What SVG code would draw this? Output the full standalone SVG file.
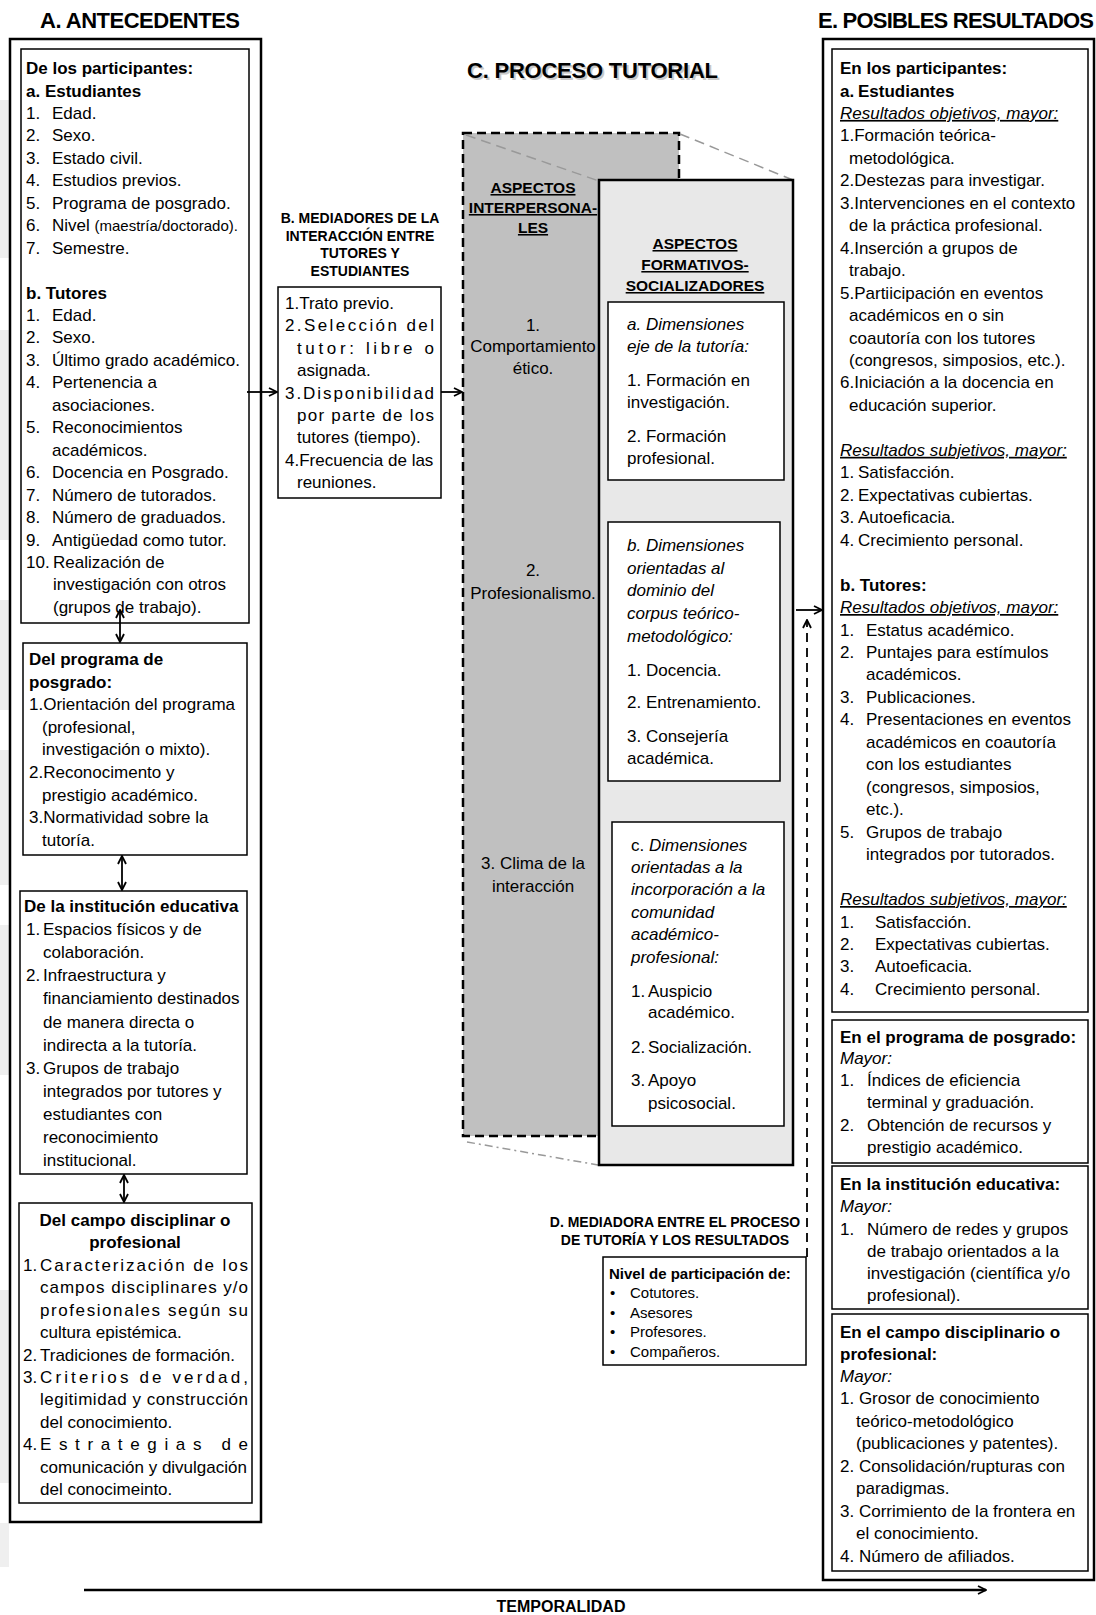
<svg xmlns="http://www.w3.org/2000/svg" width="1096" height="1615" viewBox="0 0 1096 1615">
<defs>
<style>
text{font-family:"Liberation Sans",Arial,Helvetica,sans-serif;font-size:17px;fill:#000}
.b{font-weight:bold}
.i{font-style:italic}
.u{text-decoration:underline}
.h{font-weight:bold;font-size:22px}
.m{font-weight:bold;font-size:14px}
.hd{font-weight:bold;font-size:15.5px;text-decoration:underline}
.sm{font-size:15px}
.c{text-anchor:middle}
.outer{fill:#fff;stroke:#000;stroke-width:2.5}
.box{fill:#fff;stroke:#000;stroke-width:1.5}
.conn{fill:none;stroke:#000;stroke-width:1.8}
.persp{fill:none;stroke:#999;stroke-width:1.5}
.faint{fill:#efefef}
</style>
<marker id="ah" viewBox="0 0 10 10" refX="9" refY="5" markerWidth="10" markerHeight="10" markerUnits="userSpaceOnUse" orient="auto-start-reverse">
<path d="M1,1 L9,5 L1,9" fill="none" stroke="#000" stroke-width="1.8"/>
</marker>
</defs>
<rect width="1096" height="1615" fill="#fff"/>
<g id="margin-marks">
<rect class="faint" x="0" y="100" width="9" height="158"/>
<rect class="faint" x="0" y="330" width="9" height="210"/>
<rect class="faint" x="0" y="600" width="9" height="110"/>
<rect class="faint" x="0" y="750" width="9" height="135"/>
<rect class="faint" x="0" y="925" width="9" height="150"/>
<rect class="faint" x="0" y="1290" width="9" height="193"/>
<rect class="faint" x="0" y="1523" width="9" height="44"/>
</g>

<g id="A">
<text class="h" x="40" y="28" textLength="200" lengthAdjust="spacing">A. ANTECEDENTES</text>
<rect class="outer" x="10" y="39" width="251" height="1483"/>
<g id="A1">
<rect class="box" x="21" y="49" width="228" height="574"/>
<text class="b" x="26" y="74">De los participantes:</text>
<text class="b" x="26" y="96.5">a. Estudiantes</text>
<text y="118.9"><tspan x="26">1.</tspan><tspan x="52">Edad.</tspan></text>
<text y="141.4"><tspan x="26">2.</tspan><tspan x="52">Sexo.</tspan></text>
<text y="163.8"><tspan x="26">3.</tspan><tspan x="52">Estado civil.</tspan></text>
<text y="186.3"><tspan x="26">4.</tspan><tspan x="52">Estudios previos.</tspan></text>
<text y="208.7"><tspan x="26">5.</tspan><tspan x="52">Programa de posgrado.</tspan></text>
<text y="231.2"><tspan x="26">6.</tspan><tspan x="52">Nivel </tspan><tspan class="sm">(maestría/doctorado).</tspan></text>
<text y="253.6"><tspan x="26">7.</tspan><tspan x="52">Semestre.</tspan></text>
<text class="b" x="26" y="298.5">b. Tutores</text>
<text y="321"><tspan x="26">1.</tspan><tspan x="52">Edad.</tspan></text>
<text y="343.4"><tspan x="26">2.</tspan><tspan x="52">Sexo.</tspan></text>
<text y="365.9"><tspan x="26">3.</tspan><tspan x="52">Último grado académico.</tspan></text>
<text y="388.3"><tspan x="26">4.</tspan><tspan x="52">Pertenencia a</tspan></text>
<text x="52" y="410.8">asociaciones.</text>
<text y="433.2"><tspan x="26">5.</tspan><tspan x="52">Reconocimientos</tspan></text>
<text x="52" y="455.7">académicos.</text>
<text y="478.1"><tspan x="26">6.</tspan><tspan x="52">Docencia en Posgrado.</tspan></text>
<text y="500.6"><tspan x="26">7.</tspan><tspan x="52">Número de tutorados.</tspan></text>
<text y="523"><tspan x="26">8.</tspan><tspan x="52">Número de graduados.</tspan></text>
<text y="545.5"><tspan x="26">9.</tspan><tspan x="52">Antigüedad como tutor.</tspan></text>
<text y="567.9"><tspan x="26">10.</tspan><tspan x="53">Realización de</tspan></text>
<text x="53" y="590.4">investigación con otros</text>
<text x="53" y="612.8">(grupos de trabajo).</text>
</g>
<g id="A2">
<rect class="box" x="23" y="643" width="224" height="212" stroke-width="2"/>
<text class="b" x="29" y="665">Del programa de</text>
<text class="b" x="29" y="687.6">posgrado:</text>
<text x="29" y="710.2">1.Orientación del programa</text>
<text x="42" y="732.8">(profesional,</text>
<text x="42" y="755.4">investigación o mixto).</text>
<text x="29" y="778">2.Reconocimento y</text>
<text x="42" y="800.6">prestigio académico.</text>
<text x="29" y="823.2">3.Normatividad sobre la</text>
<text x="42" y="845.8">tutoría.</text>
</g>
<g id="A3">
<rect class="box" x="20" y="891" width="227" height="283" stroke-width="2"/>
<text class="b" x="24" y="912">De la institución educativa</text>
<text y="935.1"><tspan x="26">1.</tspan><tspan x="43">Espacios físicos y de</tspan></text>
<text x="43" y="958.2">colaboración.</text>
<text y="981.3"><tspan x="26">2.</tspan><tspan x="43">Infraestructura y</tspan></text>
<text x="43" y="1004.4">financiamiento destinados</text>
<text x="43" y="1027.5">de manera directa o</text>
<text x="43" y="1050.6">indirecta a la tutoría.</text>
<text y="1073.7"><tspan x="26">3.</tspan><tspan x="43">Grupos de trabajo</tspan></text>
<text x="43" y="1096.8">integrados por tutores y</text>
<text x="43" y="1119.9">estudiantes con</text>
<text x="43" y="1143">reconocimiento</text>
<text x="43" y="1166.1">institucional.</text>
</g>
<g id="A4">
<rect class="box" x="19" y="1203" width="233" height="300"/>
<text class="b c" x="135" y="1226">Del campo disciplinar o</text>
<text class="b c" x="135" y="1248.4">profesional</text>
<text y="1270.8"><tspan x="23">1.</tspan><tspan x="40" textLength="208" lengthAdjust="spacing">Caracterización de los</tspan></text>
<text x="40" y="1293.3" textLength="208" lengthAdjust="spacing">campos disciplinares y/o</text>
<text x="40" y="1315.7" textLength="208" lengthAdjust="spacing">profesionales según su</text>
<text x="40" y="1338.1">cultura epistémica.</text>
<text y="1360.5"><tspan x="23">2.</tspan><tspan x="40">Tradiciones de formación.</tspan></text>
<text y="1382.9"><tspan x="23">3.</tspan><tspan x="40" textLength="208" lengthAdjust="spacing">Criterios de verdad,</tspan></text>
<text x="40" y="1405.4" textLength="208" lengthAdjust="spacing">legitimidad y construcción</text>
<text x="40" y="1427.8">del conocimiento.</text>
<text y="1450.2"><tspan x="23">4.</tspan><tspan x="40" textLength="208" lengthAdjust="spacing">Estrategias de</tspan></text>
<text x="40" y="1472.6">comunicación y divulgación</text>
<text x="40" y="1495">del conocimeinto.</text>
</g>
</g>

<g id="B">
<text class="m c" x="360" y="223">B. MEDIADORES DE LA</text>
<text class="m c" x="360" y="240.5">INTERACCIÓN ENTRE</text>
<text class="m c" x="360" y="258">TUTORES Y</text>
<text class="m c" x="360" y="276">ESTUDIANTES</text>
<rect class="box" x="278" y="287" width="163" height="211" stroke-width="2.2"/>
<text x="285" y="309">1.Trato previo.</text>
<text x="285" y="331.4" textLength="149" lengthAdjust="spacing">2.Selección del</text>
<text x="297" y="353.8" textLength="137" lengthAdjust="spacing">tutor: libre o</text>
<text x="297" y="376.2">asignada.</text>
<text x="285" y="398.6" textLength="149" lengthAdjust="spacing">3.Disponibilidad</text>
<text x="297" y="421" textLength="137" lengthAdjust="spacing">por parte de los</text>
<text x="297" y="443.4">tutores (tiempo).</text>
<text x="285" y="465.8">4.Frecuencia de las</text>
<text x="297" y="488.2">reuniones.</text>
</g>

<g id="C">
<text class="h" x="469" y="80" textLength="251" lengthAdjust="spacing" style="fill:#c8c8c8">C. PROCESO TUTORIAL</text>
<text class="h" x="467" y="78" textLength="251" lengthAdjust="spacing">C. PROCESO TUTORIAL</text>
<g id="C-interpersonales">
<rect x="463" y="133" width="216" height="1003" fill="#c0c0c0" stroke="#000" stroke-width="2.5" stroke-dasharray="9 5"/>
<line class="persp" x1="466" y1="135" x2="599" y2="181" stroke-dasharray="10 6"/>
<line class="persp" x1="680" y1="134" x2="793" y2="180" stroke-dasharray="10 6"/>
<line class="persp" x1="467" y1="1142" x2="598" y2="1165" stroke-dasharray="8 4 2 4"/>
<text class="hd c" x="533" y="193">ASPECTOS</text>
<text class="hd c" x="533" y="213">INTERPERSONA-</text>
<text class="hd c" x="533" y="233">LES</text>
<text class="c" x="533" y="331">1.</text>
<text class="c" x="533" y="352">Comportamiento</text>
<text class="c" x="533" y="374">ético.</text>
<text class="c" x="533" y="576">2.</text>
<text class="c" x="533" y="599">Profesionalismo.</text>
<text class="c" x="533" y="869">3. Clima de la</text>
<text class="c" x="533" y="892">interacción</text>
</g>
<g id="C-formativos">
<rect x="599" y="180" width="194" height="985" fill="#e8e8e8" stroke="#000" stroke-width="2.5"/>
<text class="hd c" x="695" y="249">ASPECTOS</text>
<text class="hd c" x="695" y="270">FORMATIVOS-</text>
<text class="hd c" x="695" y="291">SOCIALIZADORES</text>
<g id="C-a">
<rect class="box" x="608" y="302" width="176" height="178"/>
<text class="i" x="627" y="330">a. Dimensiones</text>
<text class="i" x="627" y="352">eje de la tutoría:</text>
<text x="627" y="386">1. Formación en</text>
<text x="627" y="408">investigación.</text>
<text x="627" y="442">2. Formación</text>
<text x="627" y="464">profesional.</text>
</g>
<g id="C-b">
<rect class="box" x="608" y="522" width="172" height="259"/>
<text class="i" x="627" y="551">b. Dimensiones</text>
<text class="i" x="627" y="574">orientadas al</text>
<text class="i" x="627" y="596">dominio del</text>
<text class="i" x="627" y="619">corpus teórico-</text>
<text class="i" x="627" y="642">metodológico:</text>
<text x="627" y="676">1. Docencia.</text>
<text x="627" y="708">2. Entrenamiento.</text>
<text x="627" y="742">3. Consejería</text>
<text x="627" y="764">académica.</text>
</g>
<g id="C-c">
<rect class="box" x="612" y="822" width="172" height="304"/>
<text x="631" y="851">c. <tspan class="i">Dimensiones</tspan></text>
<text class="i" x="631" y="873">orientadas a la</text>
<text class="i" x="631" y="895">incorporación a la</text>
<text class="i" x="631" y="918">comunidad</text>
<text class="i" x="631" y="940">académico-</text>
<text class="i" x="631" y="963">profesional:</text>
<text y="997"><tspan x="631">1.</tspan><tspan x="648">Auspicio</tspan></text>
<text x="648" y="1018">académico.</text>
<text y="1053"><tspan x="631">2.</tspan><tspan x="648">Socialización.</tspan></text>
<text y="1086"><tspan x="631">3.</tspan><tspan x="648">Apoyo</tspan></text>
<text x="648" y="1109">psicosocial.</text>
</g>
</g>
</g>

<g id="D">
<text class="m c" x="675" y="1227">D. MEDIADORA ENTRE EL PROCESO</text>
<text class="m c" x="675" y="1245">DE TUTORÍA Y LOS RESULTADOS</text>
<rect class="box" x="603" y="1257" width="203" height="108"/>
<text class="b" x="609" y="1279" style="font-size:15px">Nivel de participación de:</text>
<text class="sm" y="1298"><tspan x="610">•</tspan><tspan x="630">Cotutores.</tspan></text>
<text class="sm" y="1318"><tspan x="610">•</tspan><tspan x="630">Asesores</tspan></text>
<text class="sm" y="1337"><tspan x="610">•</tspan><tspan x="630">Profesores.</tspan></text>
<text class="sm" y="1357"><tspan x="610">•</tspan><tspan x="630">Compañeros.</tspan></text>
</g>

<g id="E">
<text class="h" x="818" y="28" textLength="276" lengthAdjust="spacing">E. POSIBLES RESULTADOS</text>
<rect class="outer" x="823" y="39" width="271" height="1541"/>
<g id="E1">
<rect class="box" x="832" y="49" width="256" height="963"/>
<text class="b" x="840" y="74">En los participantes:</text>
<text class="b" y="96.5"><tspan x="840">a.</tspan><tspan x="858">Estudiantes</tspan></text>
<text class="i u" x="840" y="118.9">Resultados objetivos, mayor:</text>
<text x="840" y="141.4">1.Formación teórica-</text>
<text x="849" y="163.8">metodológica.</text>
<text x="840" y="186.3">2.Destezas para investigar.</text>
<text x="840" y="208.8">3.Intervenciones en el contexto</text>
<text x="849" y="231.2">de la práctica profesional.</text>
<text x="840" y="253.7">4.Inserción a grupos de</text>
<text x="849" y="276.1">trabajo.</text>
<text x="840" y="298.6">5.Partiicipación en eventos</text>
<text x="849" y="321.1">académicos en o sin</text>
<text x="849" y="343.5">coautoría con los tutores</text>
<text x="849" y="366">(congresos, simposios, etc.).</text>
<text x="840" y="388.4">6.Iniciación a la docencia en</text>
<text x="849" y="410.9">educación superior.</text>
<text class="i u" x="840" y="455.8">Resultados subjetivos, mayor:</text>
<text y="478.3"><tspan x="840">1.</tspan><tspan x="858">Satisfacción.</tspan></text>
<text y="500.7"><tspan x="840">2.</tspan><tspan x="858">Expectativas cubiertas.</tspan></text>
<text y="523.2"><tspan x="840">3.</tspan><tspan x="858">Autoeficacia.</tspan></text>
<text y="545.7"><tspan x="840">4.</tspan><tspan x="858">Crecimiento personal.</tspan></text>
<text class="b" x="840" y="590.6">b. Tutores:</text>
<text class="i u" x="840" y="613">Resultados objetivos, mayor:</text>
<text y="635.5"><tspan x="840">1.</tspan><tspan x="866">Estatus académico.</tspan></text>
<text y="658"><tspan x="840">2.</tspan><tspan x="866">Puntajes para estímulos</tspan></text>
<text x="866" y="680.4">académicos.</text>
<text y="702.9"><tspan x="840">3.</tspan><tspan x="866">Publicaciones.</tspan></text>
<text y="725.3"><tspan x="840">4.</tspan><tspan x="866">Presentaciones en eventos</tspan></text>
<text x="866" y="747.8">académicos en coautoría</text>
<text x="866" y="770.3">con los estudiantes</text>
<text x="866" y="792.7">(congresos, simposios,</text>
<text x="866" y="815.2">etc.).</text>
<text y="837.6"><tspan x="840">5.</tspan><tspan x="866">Grupos de trabajo</tspan></text>
<text x="866" y="860.1">integrados por tutorados.</text>
<text class="i u" x="840" y="905">Resultados subjetivos, mayor:</text>
<text y="927.5"><tspan x="840">1.</tspan><tspan x="875">Satisfacción.</tspan></text>
<text y="950"><tspan x="840">2.</tspan><tspan x="875">Expectativas cubiertas.</tspan></text>
<text y="972.4"><tspan x="840">3.</tspan><tspan x="875">Autoeficacia.</tspan></text>
<text y="994.9"><tspan x="840">4.</tspan><tspan x="875">Crecimiento personal.</tspan></text>
</g>
<g id="E2">
<rect class="box" x="832" y="1020" width="256" height="143"/>
<text class="b" x="840" y="1043">En el programa de posgrado:</text>
<text class="i" x="840" y="1064">Mayor:</text>
<text y="1086"><tspan x="840">1.</tspan><tspan x="867">Índices de eficiencia</tspan></text>
<text x="867" y="1108">terminal y graduación.</text>
<text y="1131"><tspan x="840">2.</tspan><tspan x="867">Obtención de recursos y</tspan></text>
<text x="867" y="1153">prestigio académico.</text>
</g>
<g id="E3">
<rect class="box" x="832" y="1166" width="256" height="143"/>
<text class="b" x="840" y="1190">En la institución educativa:</text>
<text class="i" x="840" y="1212">Mayor:</text>
<text y="1235"><tspan x="840">1.</tspan><tspan x="867">Número de redes y grupos</tspan></text>
<text x="867" y="1257">de trabajo orientados a la</text>
<text x="867" y="1279">investigación (científica y/o</text>
<text x="867" y="1301">profesional).</text>
</g>
<g id="E4">
<rect class="box" x="832" y="1314" width="256" height="257"/>
<text class="b" x="840" y="1338">En el campo disciplinario o</text>
<text class="b" x="840" y="1360">profesional:</text>
<text class="i" x="840" y="1382">Mayor:</text>
<text x="840" y="1404">1. Grosor de conocimiento</text>
<text x="856" y="1427">teórico-metodológico</text>
<text x="856" y="1449">(publicaciones y patentes).</text>
<text x="840" y="1472">2. Consolidación/rupturas con</text>
<text x="856" y="1494">paradigmas.</text>
<text x="840" y="1517">3. Corrimiento de la frontera en</text>
<text x="856" y="1539">el conocimiento.</text>
<text x="840" y="1562">4. Número de afiliados.</text>
</g>
</g>

<g id="temporalidad">
<text class="b c" x="561" y="1612" style="font-size:16px">TEMPORALIDAD</text>
</g>

<g id="connectors">
<line class="conn" x1="247" y1="392" x2="277" y2="392" marker-end="url(#ah)"/>
<line class="conn" x1="441" y1="392" x2="462" y2="392" marker-end="url(#ah)"/>
<line class="conn" x1="796" y1="610" x2="822" y2="610" marker-end="url(#ah)"/>
<line class="conn" x1="807" y1="1257" x2="807" y2="620" stroke-dasharray="9 6" marker-end="url(#ah)"/>
<line class="conn" x1="120" y1="610" x2="120" y2="642" marker-start="url(#ah)" marker-end="url(#ah)"/>
<line class="conn" x1="122" y1="856" x2="122" y2="890" marker-start="url(#ah)" marker-end="url(#ah)"/>
<line class="conn" x1="124" y1="1175" x2="124" y2="1202" marker-start="url(#ah)" marker-end="url(#ah)"/>
<line x1="84" y1="1590" x2="986" y2="1590" stroke="#000" stroke-width="2.5" marker-end="url(#ah)"/>
</g>
</svg>
